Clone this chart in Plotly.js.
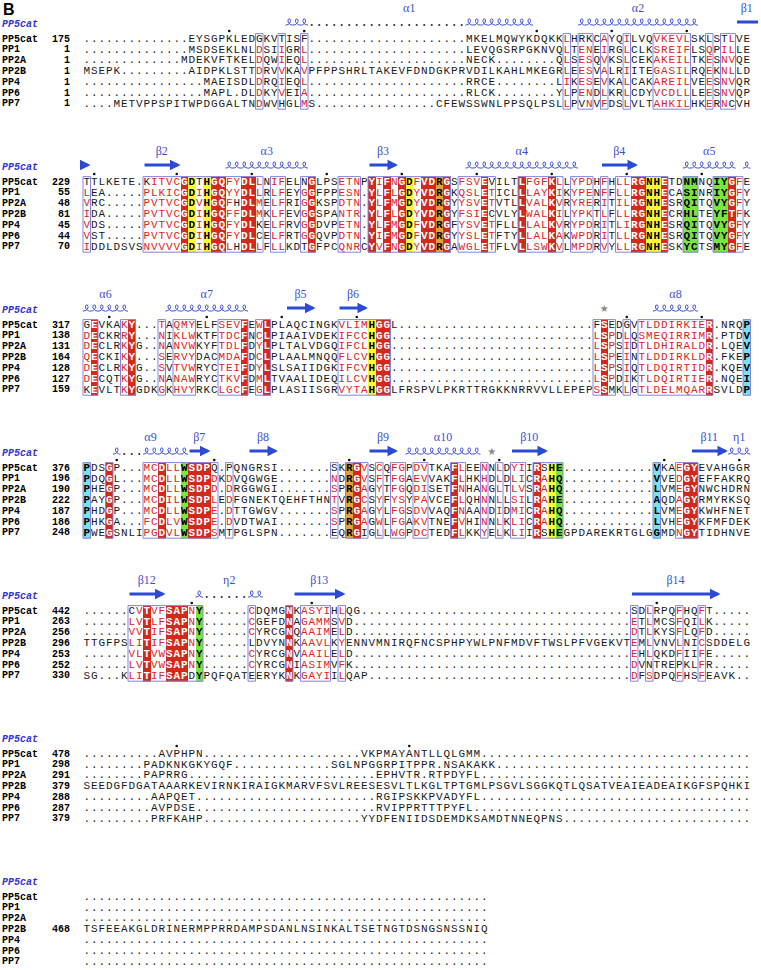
<!DOCTYPE html>
<html>
<head>
<meta charset="utf-8">
<script src="https://cdn.plot.ly/plotly-3.0.1.min.js"></script>
<style>
html,body{margin:0;padding:0;background:#ffffff;}
#chart{width:761px;height:970px;}
</style>
</head>
<body>
<div id="chart"></div>
<script>
// ================= DATA =================
const gap = n => '.'.repeat(n);
const seqNames = ["PP5cat","PP1","PP2A","PP2B","PP4","PP6","PP7"];

const block1 = [
  gap(14) + "EYSGPKLEDGKVTISF" + gap(21) + "MKELMQWYKDQKKLHRKCAYQILVQVKEVLSKLSTLVE",
  gap(14) + "MSDSEKLNLDSIIGRL" + gap(21) + "LEVQGSRPGKNVQLTENEIRGLCLKSREIFLSQPILLE",
  gap(13) + "MDEKVFTKELDQWIEQL" + gap(21) + "NECK" + gap(8) + "QLSESQVKSLCEKAKEILTKESNVQE",
  "MSEPK" + gap(9) + "AIDPKLSTTDRVVKAVPFPPSHRLTAKEVFDNDGKPRVDILKAHLMKEGRLEESVALRIITEGASILRQEKNLLD",
  gap(16) + "MAEISDLDRQIEQL" + gap(21) + "RRCE" + gap(8) + "LIKESEVKALCAKAREILVEESNVQR",
  gap(16) + "MAPL.DLDKYVEIA" + gap(21) + "RLCK" + gap(8) + "YLPENDLKRLCDYVCDLLLEESNVQP",
  gap(4) + "METVPPSPITWPDGGALTNDWVHGLMS" + gap(16) + "CFEWSSWNLPPSQLPSLLPVNVFDSLVLTAHKILHKERNCVH"
];
const block2 = [
  "TTLKETE.KITVCGDTHGQFYDLLNIFELNGLPSETNPYIFNGDFVDRGSFSVEVILTLFGFKLLYPDHFHLLRGNHETDNMNQIYGFE",
  "LEA.....PLKICGDIHGQYYDLLRLFEYGGFPPESN.YLFLGDYVDRGKQSLETICLLLAYKIKYPENFFLLRGNHECASINRIYGFY",
  "VRC.....PVTVCGDVHGQFHDLMELFRIGGKSPDTN.YLFMGDYVDRGYYSVETVTLLVALKVRYRERITILRGNHESRQITQVYGFY",
  "IDA.....PVTVCGDIHGQFFDLMKLFEVGGSPANTR.YLFLGDYVDRGYFSIECVLYLWALKILYPKTLFLLRGNHECRHLTEYFTFK",
  "VDS.....PVTVCGDIHGQFYDLKELFRVGGDVPETN.YLFMGDFVDRGFYSVETFLLLLALKVRYPDRITLIRGNHESRQITQVYGFY",
  "VST.....PVTVCGDIHGQFYDLCELFRTGGQVPDTN.YIFMGDFVDRGYYSLETFTYLLALKAKWPDRITLLRGNHESRQITQVYGFY",
  "IDDLDSVSNVVVVGDIHGQLHDLLFLLKDTGFPCQNRCYVFNGDYVDRGAWGLETFLVLLSWKVLMPDRVYLLRGNHESKYCTSMYGFE"
];
const block3 = [
  "GEVKAKY...TAQMYELFSEVFEWLPLAQCINGKVLIMHGGL" + gap(26) + "FSEDGVTLDDIRKIER.NRQP",
  "DECKRRY...NIKLWKTFTDCFNCLPIAAIVDEKIFCCHGG" + gap(27) + "LSPDLQSMEQIRRIMR.PTDV",
  "DECLRKYG..NANVWKYFTDLFDYLPLTALVDGQIFCLHGG" + gap(27) + "LSPSIDTLDHIRALDR.LQEV",
  "QECKIKY...SERVYDACMDAFDCLPLAALMNQQFLCVHGG" + gap(27) + "LSPEINTLDDIRKLDR.FKEP",
  "DECLRKYG..SVTVWRYCTEIFDYLSLSAIIDGKIFCVHGG" + gap(27) + "LSPSIQTLDQIRTIDR.KQEV",
  "DECQTKYG..NANAWRYCTKVFDMLTVAALIDEQILCVHGG" + gap(27) + "LSPDIKTLDQIRTIER.NQEI",
  "KEVLTKYGDKGKHVYRKCLGCFEGLPLASIISGRVYTAHGG" + "LFRSPVLPKRTTRGKKNRRVVLLEPEPS" + "SMKLGTLDELMQARRSVLDP"
];
const block4 = [
  "PDSGP...MCDLLWSDPQ.PQNGRSI" + gap(7) + "SKRGVSCQFGPDVTKAFLEENNLDYIIRSHE" + gap(12) + "VKAEGYEVAHGGR",
  "PDQGL...MCDLLWSDPDKDVQGWGE" + gap(7) + "NDRGVSFTFGAEVVAKFLHKHDLDLICRAHQ" + gap(12) + "VVEDGYEFFAKRQ",
  "PHEGP...MCDLLWSDPD.DRGGWGI" + gap(7) + "SPRGAGYTFGQDISETFNHANGLTLVSRAHQ" + gap(12) + "LVMEGYNWCHDRN",
  "PAYGP...MCDILWSDPLEDFGNEKTQEHFTHN" + "TVRGCSYFYSYPAVCEFLQHNNLLSILRAHE" + gap(12) + "AQDAGYRMYRKSQ",
  "PHDGP...MCDLLWSDPE.DTTGWGV" + gap(7) + "SPRGAGYLFGSDVVAQFNAANDIDMICRAHQ" + gap(12) + "LVMEGYKWHFNET",
  "PHKGA...FCDLVWSDPE.DVDTWAI" + gap(7) + "SPRGAGWLFGAKVTNEFVHINNLKLICRAHQ" + gap(12) + "LVHEGYKFMFDEK",
  "PWEGSNLIPGDVLWSDPSMTPGLSPN" + gap(7) + "EQRGIGLLWGPDCTEDFLKKYELKLIIRSHE" + "GPDAREKRTGLG" + "GMDNGYTIDHNVE"
];
const block5 = [
  "......CVTVFSAPNY......CDQMGNKASYIHLQG" + gap(36) + "SDLRPQFHQFT" + gap(5),
  "......LVTLFSAPNY......CGEFDNAGAMMSVD" + gap(37) + "ETLMCSFQILK" + gap(5),
  "......VVTIFSAPNY......CYRCGNQAAIMELD" + gap(37) + "DTLKYSFLQFD" + gap(5),
  "TTGFPSLITIFSAPNY......LDVYNNKAAVLKYENNVMNIRQFNCSPHPYWLPNFMDVFTWSLPFVGEKVTEMLVNVLNICSDDELG",
  "......VLTVWSAPNY......CYRCGNVAAILELD" + gap(37) + "EHLQKDFIIFE" + gap(5),
  "......LVTVWSAPNY......CYRCGNIASIMVFK" + gap(37) + "DVNTREPKLFR" + gap(5),
  "SG...KLITIFSAPDYPQFQATEERYKNKGAYIILQAP" + gap(35) + "DFSDPQFHSFEAVK" + gap(2)
];
const block6 = [
  gap(10) + "AVPHPN" + gap(21) + "VKPMAYANTLLQLGMM" + gap(36),
  gap(8) + "PADKNKGKYGQF" + gap(13) + "SGLNPGGRPITPPR.NSAKAKK" + gap(34),
  gap(8) + "PAPRRG" + gap(25) + "EPHVTR.RTPDYFL" + gap(36),
  "SEEDGFDGATAAARKEVIRNKIRAIGKMARVFSVLREESESVLTLKGLTPTGMLPSGVLSGGKQTLQSATVEAIEADEAIKGFSPQHKI",
  gap(9) + "AAPQET" + gap(24) + "RGIPSKKPVADYFL" + gap(36),
  gap(9) + "AVPDSE" + gap(24) + "RVIPPRTTTPYFL" + gap(37),
  gap(9) + "PRFKAHP" + gap(21) + "YYDFENIIDSDEMDKSAMDTNNEQPNS" + gap(25)
];
const block7 = [
  gap(54), gap(54), gap(54),
  "TSFEEAKGLDRINERMPPRRDAMPSDANLNSINKALTSETNGTDSNGSNSSNIQ",
  gap(54), gap(54), gap(54)
];

const num1 = ["175","1","1","1","1","1","1"];
const num2 = ["229","55","48","81","45","44","70"];
const num3 = ["317","138","131","164","128","127","159"];
const num4 = ["376","196","190","222","187","186","248"];
const num5 = ["442","263","256","296","253","252","330"];
const num6 = ["478","298","291","379","288","287","379"];
const num7 = ["","","","468","","",""];

// conservation class runs per block: [first column, last column, class]
// b = similar (red letters in box), R = identical (red fill), Y/G/C/O = highlighted
const cls1 = [[23,23,'b'],[26,26,'b'],[29,29,'b'],[64,64,'b'],[66,67,'b'],[69,69,'b'],[72,72,'b'],[76,80,'b'],[83,83,'b'],[85,86,'b']];
const cls2 = [[0,0,'b'],[8,12,'b'],[13,13,'R'],[14,14,'Y'],[15,15,'b'],[16,16,'Y'],[17,18,'R'],[19,20,'b'],[21,22,'R'],[23,23,'b'],[25,26,'b'],[29,29,'b'],[30,30,'R'],[34,36,'b'],[38,38,'R'],[39,39,'b'],[40,40,'R'],[41,41,'b'],[42,42,'R'],[43,43,'Y'],[44,44,'b'],[45,46,'R'],[47,47,'O'],[48,48,'R'],[50,52,'b'],[53,53,'R'],[54,54,'b'],[58,58,'R'],[59,61,'b'],[62,62,'R'],[63,63,'b'],[65,67,'b'],[69,69,'b'],[71,72,'b'],[73,74,'R'],[75,76,'Y'],[77,77,'R'],[80,81,'G'],[84,85,'G'],[86,86,'R'],[87,87,'b']];
const cls3 = [[0,0,'b'],[1,1,'R'],[5,5,'b'],[6,6,'R'],[10,10,'b'],[12,14,'b'],[18,20,'b'],[21,21,'R'],[23,23,'b'],[24,24,'R'],[34,37,'b'],[38,38,'Y'],[39,40,'R'],[68,68,'b'],[69,69,'R'],[70,70,'b'],[72,72,'b'],[74,82,'b'],[83,83,'R'],[88,88,'C']];
const cls4 = [[0,0,'C'],[3,3,'R'],[8,9,'b'],[10,10,'R'],[11,12,'b'],[13,13,'G'],[14,16,'R'],[17,17,'b'],[19,19,'b'],[33,33,'b'],[35,35,'O'],[36,36,'R'],[37,37,'b'],[39,39,'b'],[41,42,'b'],[44,45,'b'],[49,49,'R'],[50,50,'b'],[53,53,'b'],[55,55,'b'],[57,58,'b'],[60,60,'R'],[61,61,'b'],[62,62,'Y'],[63,63,'G'],[76,76,'C'],[79,79,'b'],[80,81,'R']];
const cls5 = [[6,7,'b'],[8,8,'R'],[9,10,'b'],[11,13,'R'],[14,14,'b'],[15,15,'G'],[22,22,'b'],[27,27,'R'],[29,32,'b'],[34,34,'b'],[73,73,'b'],[75,75,'b'],[79,79,'b'],[82,82,'b']];
const cls6 = [];
const cls7 = [];

// residues drawn black inside a similarity box: "row:column"
const black1 = ["0:23","0:26","6:26","0:29","0:66","0:67","6:66","0:83","0:85","6:86"];
const black2 = ["0:0","0:8","0:15","2:20","6:20","4:23","5:23","0:29","6:29","0:54","3:54"];
const black3 = ["0:0","6:0","0:68","0:72","0:70","6:70"];
const black4 = ["0:17","0:19","6:19","0:33","6:33","6:37","0:61","6:61"];
const black5 = ["0:73","0:6","6:14","6:22","3:22","5:75","5:79"];

// secondary structure of PP5cat
const helixBlock = [0,0,1,1,1,1,2,2,2,3,3,3,4];
const helixStart = [27,66,19,51,80,88,0,11,76,4,43,86,15];
const helixEnd   = [59,81,29,65,86,88,5,21,81,13,52,88,23];
const helixName  = ["α1","α2","α3","α4","α5","","α6","α7","α8","α9","α10","η1","η2"];

const strandBlock = [0,1,1,1,1,2,2,3,3,3,3,3,4,4,4];
const strandStart = [87,0,8,38,69,27,34,14,22,38,57,81,6,28,73];
const strandEnd   = [89,0,12,41,73,30,37,16,25,41,61,85,10,34,84];
const strandName  = ["β1","","β2","β3","β4","β5","β6","β7","β8","β9","β10","β11","β12","β13","β14"];
const strandHead  = [false,true,true,true,true,true,true,true,true,true,true,true,true,true,true];

const starBlock = [2,3];
const starCol = [69,54];

// ================= LAYOUT CONSTANTS =================
const W = 761, H = 970;
const X0 = 83, CW = 7.5, PITCH = 10.8;
const blockY = [39, 182, 325, 468, 611, 754, 897];
const xc = px => (px - X0) / CW - 0.5;
const NCOL = 89;

const blocks = [block1, block2, block3, block4, block5, block6, block7];
const numbers = [num1, num2, num3, num4, num5, num6, num7];
const classRuns = [cls1, cls2, cls3, cls4, cls5, cls6, cls7];
const blackCells = [black1, black2, black3, black4, black5, [], []];

const fillCode = {R:1, Y:2, G:3, C:4, O:5};
const colorscale = [[0,'#d3291d'],[0.2,'#d3291d'],[0.2,'#fbfb3c'],[0.4,'#fbfb3c'],[0.4,'#79e63e'],[0.6,'#79e63e'],[0.6,'#74e2f0'],[0.8,'#74e2f0'],[0.8,'#e4a03c'],[1,'#e4a03c']];

const traces = [], shapes = [], annotations = [];
const groups = {
  plain:{x:[],y:[],t:[]}, red:{x:[],y:[],t:[]}, white:{x:[],y:[],t:[]}, bold:{x:[],y:[],t:[]}
};
const nameX = [], nameY = [], nameT = [], numX = [], numY = [], numT = [];
const ssLabX = [], ssLabY = [];
const rulerX = [], rulerY = [];

blocks.forEach((rows, b) => {
  const y0 = blockY[b];
  const ys = rows.map((_, r) => y0 + r * PITCH);
  const ncol = b < 6 ? NCOL : rows[3].length;
  const colCls = new Array(ncol).fill(null);
  classRuns[b].forEach(([s, e, c]) => { for (let k = s; k <= e; k++) colCls[k] = c; });
  const blk = new Set(blackCells[b]);

  const z = rows.map(s => colCls.map((c, k) => (c && c !== 'b' && s[k] && s[k] !== '.') ? fillCode[c] : null));
  if (z.some(row => row.some(v => v !== null))) {
    traces.push({type:'heatmap', x:[...Array(ncol).keys()], y:ys, z:z, zmin:0.5, zmax:5.5,
      colorscale:colorscale, showscale:false, hoverinfo:'skip', xgap:0, ygap:0});
  }

  rows.forEach((s, r) => {
    for (let k = 0; k < s.length; k++) {
      const ch = s[k], c = colCls[k];
      let g = 'plain';
      if (ch !== '.' && c) {
        if (c === 'b') g = blk.has(r + ':' + k) ? 'plain' : 'red';
        else if (c === 'R') g = 'white';
        else g = 'bold';
      }
      groups[g].x.push(k); groups[g].y.push(ys[r]); groups[g].t.push(ch);
    }
    nameX.push(xc(2)); nameY.push(ys[r]); nameT.push(seqNames[r]);
    if (numbers[b][r]) { numX.push(xc(70)); numY.push(ys[r]); numT.push(numbers[b][r]); }
  });

  const runs = classRuns[b].map(r => [r[0], r[1]]).sort((a, c) => a[0] - c[0]);
  const merged = [];
  runs.forEach(r => {
    if (merged.length && r[0] === merged[merged.length - 1][1] + 1) merged[merged.length - 1][1] = r[1];
    else merged.push([r[0], r[1]]);
  });
  merged.forEach(([s, e]) => {
    shapes.push({type:'rect', xref:'x', yref:'y', x0:s - 0.5, x1:e + 0.5,
      y0:ys[0] - PITCH / 2, y1:ys[6] + PITCH / 2,
      line:{color:'#8585de', width:1}, fillcolor:'rgba(0,0,0,0)', layer:'above'});
  });

  ssLabX.push(xc(2)); ssLabY.push(y0 - 15);

  const ref = rows[0];
  let n = parseInt(numbers[b][0], 10);
  if (!isNaN(n)) {
    for (let k = 0; k < ref.length; k++) {
      if (ref[k] === '.') continue;
      if (n % 10 === 0) { rulerX.push(k); rulerY.push(y0 - 8); }
      n++;
    }
  }
});

const monoFont = 'Liberation Mono, DejaVu Sans Mono, monospace';
function textTrace(g, color, weight) {
  return {type:'scatter', mode:'text', x:g.x, y:g.y, text:g.t, textposition:'middle center',
    textfont:{family:monoFont, size:11, color:color, weight:weight}, hoverinfo:'skip', cliponaxis:false};
}
traces.push(textTrace(groups.plain, '#1a1a1a', 'normal'));
traces.push(textTrace(groups.red, '#e0231c', 'normal'));
traces.push(textTrace(groups.white, '#ffffff', 'bold'));
traces.push(textTrace(groups.bold, '#000000', 'bold'));

traces.push({type:'scatter', mode:'text', x:nameX, y:nameY, text:nameT, textposition:'middle right',
  textfont:{family:monoFont, size:10, color:'#000', weight:'bold'}, hoverinfo:'skip', cliponaxis:false});
traces.push({type:'scatter', mode:'text', x:numX, y:numY, text:numT, textposition:'middle left',
  textfont:{family:monoFont, size:10, color:'#000', weight:'bold'}, hoverinfo:'skip', cliponaxis:false});
traces.push({type:'scatter', mode:'text', x:ssLabX, y:ssLabY, text:ssLabX.map(() => 'PP5cat'), textposition:'middle right',
  textfont:{family:monoFont, size:10, color:'#3535d0', weight:'bold', style:'italic'}, hoverinfo:'skip', cliponaxis:false});
traces.push({type:'scatter', mode:'markers', x:rulerX, y:rulerY,
  marker:{size:2.6, color:'#111'}, hoverinfo:'skip', cliponaxis:false});

const coilX = [], coilY = [], hgX = [], hgY = [], labX = [], labY = [], labT = [];
helixBlock.forEach((b, i) => {
  const s = helixStart[i], e = helixEnd[i], ref = blocks[b][0];
  const yc = blockY[b] - 17;
  let k = s;
  while (k <= e) {
    if (ref[k] === '.') { hgX.push(k); hgY.push(yc + 3); k++; continue; }
    let a = k; while (k <= e && ref[k] !== '.') k++;
    const nl = k - a;
    for (let t = 0; t <= nl + 1e-9; t += 0.04) {
      coilX.push(a - 0.5 + t + 0.4 * Math.sin(2 * Math.PI * t));
      coilY.push(yc + 3.2 * Math.cos(2 * Math.PI * t));
    }
    coilX.push(null); coilY.push(null);
  }
  if (helixName[i]) { labX.push((s + e) / 2); labY.push(blockY[b] - 30); labT.push(helixName[i]); }
});
traces.push({type:'scatter', mode:'lines', x:coilX, y:coilY, line:{color:'#3f52d6', width:1}, hoverinfo:'skip', cliponaxis:false, connectgaps:false});
traces.push({type:'scatter', mode:'markers', x:hgX, y:hgY, marker:{size:2.2, color:'#333'}, hoverinfo:'skip', cliponaxis:false});

strandBlock.forEach((b, i) => {
  const yc = blockY[b] - 17;
  annotations.push({x:strandEnd[i] + 0.5, y:yc, ax:strandStart[i] - 0.5, ay:yc,
    xref:'x', yref:'y', axref:'x', ayref:'y', text:'', showarrow:true,
    arrowhead:strandHead[i] ? 2 : 0, arrowsize:0.7, arrowwidth:3, arrowcolor:'#2b4bd6', standoff:0, startstandoff:0});
  if (strandName[i]) { labX.push((strandStart[i] + strandEnd[i]) / 2); labY.push(blockY[b] - 30); labT.push(strandName[i]); }
});
traces.push({type:'scatter', mode:'text', x:labX, y:labY, text:labT, textposition:'middle center',
  textfont:{family:'Liberation Serif, DejaVu Serif, serif', size:12, color:'#3c50d2'}, hoverinfo:'skip', cliponaxis:false});

traces.push({type:'scatter', mode:'text', x:starCol, y:starBlock.map(b => blockY[b] - 16), text:starCol.map(() => '★'),
  textposition:'middle center', textfont:{family:'DejaVu Sans', size:10, color:'#8a8a8a'}, hoverinfo:'skip', cliponaxis:false});

annotations.push({x:xc(1), y:9, xref:'x', yref:'y', text:'<b>B</b>', showarrow:false, xanchor:'left', yanchor:'middle',
  font:{family:'Liberation Sans, Arial, sans-serif', size:16, color:'#000'}});

const layout = {
  width:W, height:H, margin:{l:0, r:0, t:0, b:0}, paper_bgcolor:'#ffffff', plot_bgcolor:'#ffffff',
  showlegend:false, hovermode:false,
  xaxis:{range:[xc(0), xc(W)], visible:false, showgrid:false, zeroline:false, fixedrange:true},
  yaxis:{range:[H, 0], visible:false, showgrid:false, zeroline:false, fixedrange:true},
  shapes:shapes, annotations:annotations
};
Plotly.newPlot('chart', traces, layout, {staticPlot:true, displayModeBar:false});
</script>
</body>
</html>
